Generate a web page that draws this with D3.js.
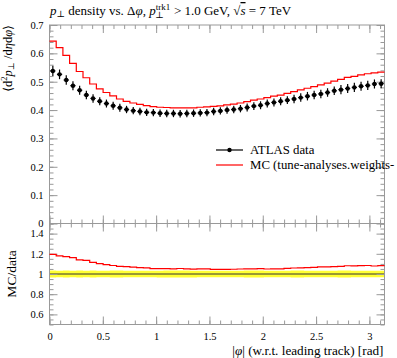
<!DOCTYPE html>
<html><head><meta charset="utf-8">
<script src="https://cdn.jsdelivr.net/npm/d3@7"></script>
<style>
body{margin:0;background:#fff;}
svg{display:block;}
text{font-family:"Liberation Serif","DejaVu Serif",serif;fill:#000;}
</style></head>
<body><svg id="c" width="397" height="358"></svg>
<script>
// ---- data ----
const nBins = 50;
const phiMax = Math.PI;
const dataVals = [0.538,0.526,0.506,0.486,0.470,0.453,0.441,0.431,0.423,0.415,
0.408,0.402,0.398,0.395,0.392,0.391,0.389,0.388,0.388,0.387,
0.388,0.389,0.390,0.391,0.395,0.397,0.400,0.402,0.405,0.409,
0.414,0.417,0.423,0.427,0.431,0.435,0.439,0.444,0.449,0.453,
0.457,0.462,0.468,0.472,0.476,0.480,0.484,0.487,0.492,0.493];
const dataErr = [0.018,0.017,0.017,0.016,0.016,0.015,0.015,0.014,0.014,0.014,
0.014,0.013,0.013,0.013,0.013,0.013,0.013,0.013,0.013,0.013,
0.013,0.013,0.013,0.013,0.013,0.013,0.013,0.013,0.013,0.014,
0.014,0.014,0.014,0.014,0.014,0.014,0.015,0.015,0.015,0.015,
0.015,0.015,0.015,0.016,0.016,0.016,0.016,0.016,0.016,0.016];
const mcVals = [0.643,0.620,0.593,0.565,0.536,0.514,0.492,0.475,0.462,0.450,
0.439,0.431,0.425,0.420,0.416,0.412,0.410,0.409,0.408,0.408,
0.408,0.408,0.410,0.411,0.413,0.415,0.418,0.421,0.425,0.430,
0.435,0.439,0.444,0.449,0.453,0.459,0.465,0.471,0.477,0.483,
0.489,0.495,0.502,0.508,0.515,0.519,0.524,0.528,0.531,0.534];
const xTickLabels = ["0","0.5","1","1.5","2","2.5","3"];
const xTickVals = [0,0.5,1,1.5,2,2.5,3];
const yTickVals = [0,0.1,0.2,0.3,0.4,0.5,0.6,0.7];
const rTickVals = [0.6,0.8,1,1.2,1.4];
const legendLabels = ["ATLAS data","MC (tune-analyses.weights-"];

// ---- layout ----
const svg = d3.select("#c");
const L = 49.5, R = 384.5;
const T1 = 25, B1 = 223.5, T2 = 223.5, B2 = 324.5;
const grey = "#999";
const FONT = "Liberation Serif";
const x = d3.scaleLinear().domain([0, phiMax]).range([L, R]);
const y = d3.scaleLinear().domain([0, 0.7]).range([B1, T1]);
const yr = d3.scaleLinear().domain([0.5, 1.5]).range([B2, T2]);

const edges = d3.range(nBins + 1).map(i => i * phiMax / nBins);
const bins = dataVals.map((v, i) => ({lo: edges[i], hi: edges[i+1], c: (edges[i]+edges[i+1])/2, d: v, e: dataErr[i], m: mcVals[i]}));

function rng(a, b, s){ const out=[]; for(let v=a; v<=b+1e-9; v+=s) out.push(+v.toFixed(4)); return out; }
const xMinor = rng(0, 3.1, 0.1);
const yMinor = rng(0, 0.7, 0.02);
const rMinor = rng(0.5, 1.5, 0.05);

function axisG(axis, tx, ty, showLabels){
  const g = svg.append("g").attr("transform", `translate(${tx},${ty})`).call(axis)
    .attr("font-family", FONT).attr("font-size", 10.5);
  g.select(".domain").remove();
  g.selectAll(".tick line").attr("stroke", grey).attr("stroke-width", 1);
  if(!showLabels) g.selectAll(".tick text").remove();
  return g;
}
function frame(yTop, yBot, ys, majors, minors, xLabels){
  axisG(d3.axisBottom(x).tickValues(xMinor).tickSize(4), 0, yTop, false);
  axisG(d3.axisBottom(x).tickValues(xTickVals).tickSize(8), 0, yTop, false);
  axisG(d3.axisTop(x).tickValues(xMinor).tickSize(4), 0, yBot, false);
  const gx = axisG(d3.axisTop(x).tickValues(xTickVals).tickSize(8).tickFormat((d,i)=>xTickLabels[i]), 0, yBot, xLabels);
  if(xLabels){
    gx.selectAll(".tick text").attr("y", 12).attr("dy", "0.35em");
  }
  axisG(d3.axisRight(ys).tickValues(minors).tickSize(4), L, 0, false);
  axisG(d3.axisLeft(ys).tickValues(minors).tickSize(4), R, 0, false);
  axisG(d3.axisLeft(ys).tickValues(majors).tickSize(8), R, 0, false);
  const gy = axisG(d3.axisRight(ys).tickValues(majors).tickSize(8).tickFormat(d3.format("~g")), L, 0, true);
  gy.selectAll(".tick text").attr("x", -6).attr("text-anchor", "end");
  svg.append("rect").attr("x", L).attr("y", yTop).attr("width", R-L).attr("height", yBot-yTop)
    .attr("fill", "none").attr("stroke", grey).attr("stroke-width", 1);
}

// ---- ratio band ----
svg.append("path")
  .attr("fill", "#ffff33").attr("stroke", "none")
  .attr("d", d3.area().curve(d3.curveStepAfter)
     .x(d => x(d.lo))
     .y0(d => yr(1 - d.e/d.d)).y1(d => yr(1 + d.e/d.d))(bins.concat([{lo: phiMax, d: bins[nBins-1].d, e: bins[nBins-1].e}])));
svg.append("line").attr("x1", L).attr("x2", R).attr("y1", yr(1)).attr("y2", yr(1))
  .attr("stroke", "#333").attr("stroke-width", 1);

frame(T1, B1, y, yTickVals, yMinor, false);
frame(T2, B2, yr, rTickVals, rMinor, true);

// ---- MC step histogram ----
const stepPts = bins.map(b => [b.lo, b.m]).concat([[phiMax, bins[nBins-1].m]]);
svg.append("path").attr("fill", "none").attr("stroke", "#f00").attr("stroke-width", 1.2)
  .attr("d", d3.line().curve(d3.curveStepAfter).x(p => x(p[0])).y(p => y(p[1]))(stepPts));
const ratioPts = bins.map(b => [b.lo, b.m/b.d]).concat([[phiMax, bins[nBins-1].m/bins[nBins-1].d]]);
svg.append("path").attr("fill", "none").attr("stroke", "#f00").attr("stroke-width", 1.2)
  .attr("d", d3.line().curve(d3.curveStepAfter).x(p => x(p[0])).y(p => yr(p[1]))(ratioPts));

// ---- data points ----
const gp = svg.append("g");
gp.selectAll("line.ev").data(bins).join("line")
  .attr("x1", d => x(d.c)).attr("x2", d => x(d.c))
  .attr("y1", d => y(d.d - d.e)).attr("y2", d => y(d.d + d.e))
  .attr("stroke", "#000").attr("stroke-width", 1.2);
gp.selectAll("line.eh").data(bins).join("line")
  .attr("x1", d => x(d.c) - 2.6).attr("x2", d => x(d.c) + 2.6)
  .attr("y1", d => y(d.d)).attr("y2", d => y(d.d))
  .attr("stroke", "#000").attr("stroke-width", 1.2);
gp.selectAll("circle").data(bins).join("circle")
  .attr("cx", d => x(d.c)).attr("cy", d => y(d.d)).attr("r", 2.2).attr("fill", "#000");

// ---- legend ----
const lg = svg.append("g");
lg.append("line").attr("x1", 216).attr("x2", 243).attr("y1", 150).attr("y2", 150).attr("stroke", "#000").attr("stroke-width", 1.2);
lg.append("circle").attr("cx", 229.5).attr("cy", 150).attr("r", 2.2).attr("fill", "#000");
lg.append("text").attr("x", 250).attr("y", 150).attr("dy", "0.35em").attr("font-size", 12.8).text(legendLabels[0]);
lg.append("line").attr("x1", 216).attr("x2", 243).attr("y1", 165).attr("y2", 165).attr("stroke", "#f00").attr("stroke-width", 1.2);
lg.append("text").attr("x", 250).attr("y", 165).attr("dy", "0.35em").attr("font-size", 12.8).text(legendLabels[1]);

// ---- title ----
const t = svg.append("text").attr("x", 50).attr("y", 15).attr("font-size", 13);
t.append("tspan").attr("font-style", "italic").text("p");
t.append("tspan").attr("font-size", 9).attr("dy", 2).text("⊥");
t.append("tspan").attr("dy", -2).text(" density vs. Δ");
t.append("tspan").attr("font-style", "italic").text("φ");
t.append("tspan").text(", ");
t.append("tspan").attr("font-style", "italic").text("p");
t.append("tspan").attr("font-size", 9).attr("dy", -5).text("trk1");
t.append("tspan").attr("font-size", 9).attr("dx", -15).attr("dy", 8).text("⊥");
t.append("tspan").attr("dy", -3).attr("dx", 7).text(" > 1.0 GeV, √");
t.append("tspan").attr("font-style", "italic").attr("text-decoration", "overline").text("s");
t.append("tspan").text(" = 7 TeV");

// ---- y label top ----
const yl = svg.append("text").attr("transform", "translate(12,25) rotate(-90)").attr("text-anchor", "end").attr("font-size", 12.5);
yl.append("tspan").text("⟨d");
yl.append("tspan").attr("font-size", 8.5).attr("dy", -5).text("2");
yl.append("tspan").attr("font-style", "italic").attr("dy", 5).text("p");
yl.append("tspan").attr("font-size", 8.5).attr("dy", 2).text("⊥");
yl.append("tspan").attr("dy", -2).text(" /d");
yl.append("tspan").attr("font-style", "italic").text("η");
yl.append("tspan").text("d");
yl.append("tspan").attr("font-style", "italic").text("φ");
yl.append("tspan").text("⟩");

// ---- ratio y label ----
svg.append("text").attr("transform", `translate(16,${yr(1)}) rotate(-90)`).attr("text-anchor", "middle")
  .attr("font-size", 13.5).text("MC/data");

// ---- x label ----
const xl = svg.append("text").attr("x", R - 1).attr("y", 350).attr("dy", "0.35em").attr("text-anchor", "end").attr("font-size", 13.2);
xl.append("tspan").text("|");
xl.append("tspan").attr("font-style", "italic").text("φ");
xl.append("tspan").text("| (w.r.t. leading track) [rad]");
</script></body></html>
